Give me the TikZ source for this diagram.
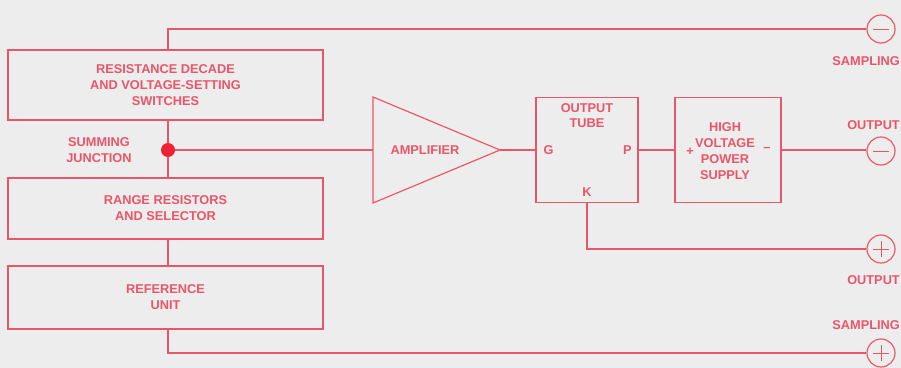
\documentclass[tikz,border=0pt]{standalone}
\usepackage{fontspec}
\setmainfont{Liberation Sans}
\usepackage{xcolor}
\usepackage{tikz}
\definecolor{DVMLine}{HTML}{E8566A}
\definecolor{DVMDot}{HTML}{EE2233}
\definecolor{DVMBack}{HTML}{EDEDED}

\begin{document}
\begin{tikzpicture}[x=0.03cm,y=-0.03cm,
  every node/.style={text=DVMLine,font=\fontsize{10.9}{13.6}\selectfont\bfseries},
  unit/.style={draw=DVMLine,line width=1pt,align=center,inner sep=0pt},
  wire/.style={draw=DVMLine,line width=1pt},
  term/.style={draw=DVMLine,line width=1pt,circle,minimum size=0.84cm,inner sep=0pt},
  tag/.style={inner sep=0pt,align=center}]
\fill[DVMBack] (0,0) rectangle (901,368);
\path[use as bounding box] (0,0) rectangle (901,368);
% left column
\node[unit,minimum width=9.45cm,minimum height=2.1cm] (decade) at (165.5,85) {RESISTANCE DECADE\\AND VOLTAGE-SETTING\\SWITCHES};
\node[unit,minimum width=9.45cm,minimum height=1.83cm] (range) at (165.5,208.5) {RANGE RESISTORS\\AND SELECTOR};
\node[unit,minimum width=9.45cm,minimum height=1.89cm] (ref) at (165.5,297.5) {REFERENCE\\UNIT};
\node[circle,fill=DVMDot,minimum size=0.42cm,inner sep=0pt] (sj) at (168,150) {};
\node[tag] (sjlabel) at (99,150) {SUMMING\\JUNCTION};
% amplifier
\coordinate (ampin) at (373,150);
\coordinate (ampout) at (500,150);
\draw[wire] (373,97) -- (ampout) -- (373,203) -- cycle;
\node (amplabel) at (425,150) {AMPLIFIER};
% output tube
\node[unit,minimum width=3.06cm,minimum height=3.15cm] (tube) at (587,150) {};
\node[tag,anchor=north] (tubelabel) at ([yshift=-0.18cm]tube.north) {OUTPUT\\TUBE};
\node[tag,anchor=west] (grid) at ([xshift=0.24cm]tube.west) {G};
\node[tag,anchor=east] (plate) at ([xshift=-0.2cm]tube.east) {P};
\node[tag,anchor=south] (cathode) at ([yshift=0.18cm]tube.south) {K};
% supply
\node[unit,minimum width=3.18cm,minimum height=3.15cm] (hvps) at (728,150) {};
\node[tag] (hvlabel) at (725,151) {HIGH\\VOLTAGE\\POWER\\SUPPLY};
\node[tag] (hvplus) at (690,152) {+};
\node[tag] (hvminus) at (767,149) {\textendash};
% terminals
\node[term] (sampminus) at (881,29) {};
\node[term] (outminus) at (881,151) {};
\node[term] (outplus) at (881,249) {};
\node[term] (sampplus) at (881,353) {};
\foreach \t in {sampminus,outminus,outplus,sampplus}
  \draw[wire,line width=0.7pt] ([xshift=-0.24cm]\t.center) -- ([xshift=0.24cm]\t.center);
\foreach \t in {outplus,sampplus}
  \draw[wire,line width=0.7pt] ([yshift=-0.24cm]\t.center) -- ([yshift=0.24cm]\t.center);
\node[tag,anchor=east] (samptop) at (900,61) {SAMPLING};
\node[tag,anchor=east] (outtop) at (900,125) {OUTPUT};
\node[tag,anchor=east] (outbot) at (900,280) {OUTPUT};
\node[tag,anchor=east] (sampbot) at (900,325) {SAMPLING};
% wires
\draw[wire] (sj |- decade.north) |- (sampminus.west);
\draw[wire] (sj |- decade.south) -- (sj) -- (sj |- range.north);
\draw[wire] (sj |- range.south) -- (sj |- ref.north);
\draw[wire] (sj |- ref.south) |- (sampplus.west);
\draw[wire] (sj) -- (ampin);
\draw[wire] (ampout) -- (tube.west);
\draw[wire] (tube.east) -- (hvps.west);
\draw[wire] (hvps.east) -- (hvps.east -| outminus.west);
\draw[wire] (tube.south) |- (outplus.west);
\end{tikzpicture}
\end{document}
